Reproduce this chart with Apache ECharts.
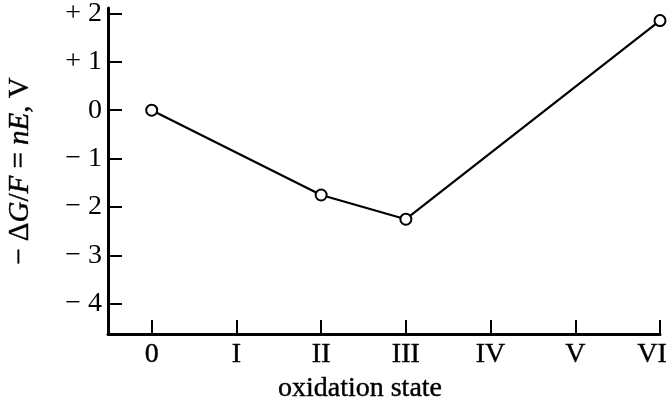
<!DOCTYPE html>
<html>
<head>
<meta charset="utf-8">
<script src="https://cdn.jsdelivr.net/npm/echarts@6/dist/echarts.min.js"></script>
<style>
  html, body { margin: 0; padding: 0; background: #fff; }
  #chart { width: 671px; height: 402px; }
</style>
</head>
<body>
<div id="chart"></div>
<script>
// Frost diagram: -ΔG/F = nE (volts) plotted against oxidation state
const oxidationStates = [0, 2, 3, 6];
const nEValues = [0, -1.75, -2.25, 1.85];

const stateTicks = [0, 1, 2, 3, 4, 5, 6];
const stateLabels = ['0', 'I', 'II', 'III', 'IV', 'V', 'VI'];

const energyTicks = [2, 1, 0, -1, -2, -3, -4];
const energyLabels = ['+ 2', '+ 1', '0', '\u2212 1', '\u2212 2', '\u2212 3', '\u2212 4'];

const serif = '"Liberation Serif", "Times New Roman", serif';
const ink = '#000';
// a hairline outline gives the glyphs a slightly heavier, printed weight
const heavy = { textBorderColor: ink, textBorderWidth: 0.4 };

function indexOfTick(ticks, v) {
  return ticks.findIndex(t => Math.abs(t - v) < 1e-6);
}

const chart = echarts.init(document.getElementById('chart'), null, { renderer: 'canvas' });

chart.setOption({
  backgroundColor: '#fff',
  animation: false,
  grid: { left: 108, right: 11, top: 8, bottom: 68, outerBoundsMode: 'none' },
  xAxis: {
    type: 'value',
    min: -0.516,
    max: 6,
    axisLine: { show: true, onZero: false, lineStyle: { color: ink, width: 3 } },
    axisTick: {
      show: true, inside: true, length: 14, customValues: stateTicks,
      lineStyle: { color: ink, width: 2 }
    },
    axisLabel: {
      customValues: stateTicks,
      formatter: function (v) {
        const i = indexOfTick(stateTicks, v);
        if (i < 0) return '';
        // the last numeral is pulled in from the right edge
        return i === stateTicks.length - 1 ? '{end|' + stateLabels[i] + '}' : stateLabels[i];
      },
      color: ink, fontFamily: serif, fontSize: 28, margin: 7, ...heavy,
      rich: {
        end: { color: ink, fontFamily: serif, fontSize: 28, padding: [0, 16, 0, 0], ...heavy }
      }
    },
    splitLine: { show: false },
    name: 'oxidation state',
    nameLocation: 'middle',
    nameGap: 38,
    nameTextStyle: { color: ink, fontFamily: serif, fontSize: 28, padding: [0, 48, 0, 0], ...heavy }
  },
  yAxis: {
    type: 'value',
    min: -4.62,
    max: 2.11,
    axisLine: { show: true, onZero: false, lineStyle: { color: ink, width: 3 } },
    axisTick: {
      show: true, inside: true, length: 14, customValues: energyTicks,
      lineStyle: { color: ink, width: 2 }
    },
    axisLabel: {
      customValues: energyTicks,
      formatter: function (v) {
        const i = indexOfTick(energyTicks, v);
        return i < 0 ? '' : energyLabels[i];
      },
      color: ink, fontFamily: serif, fontSize: 28, margin: 6,
      padding: [6, 0, 0, 0]
    },
    splitLine: { show: false },
    name: '{t|\u2212 \u0394}{i|G}{t|/}{i|F}{t| = }{i|nE}{t|, V}',
    nameLocation: 'middle',
    nameRotate: 90,
    nameGap: 73,
    nameTextStyle: {
      color: ink, fontFamily: serif, fontSize: 29,
      rich: {
        t: { color: ink, fontFamily: serif, fontSize: 29, ...heavy },
        i: { color: ink, fontFamily: serif, fontSize: 29, fontStyle: 'italic', ...heavy }
      }
    }
  },
  series: [{
    type: 'line',
    data: oxidationStates.map((s, k) => [s, nEValues[k]]),
    clip: false,
    symbol: 'circle',
    symbolSize: 11,
    lineStyle: { color: ink, width: 2.2 },
    itemStyle: { color: '#fff', borderColor: ink, borderWidth: 2 }
  }]
});
</script>
</body>
</html>
